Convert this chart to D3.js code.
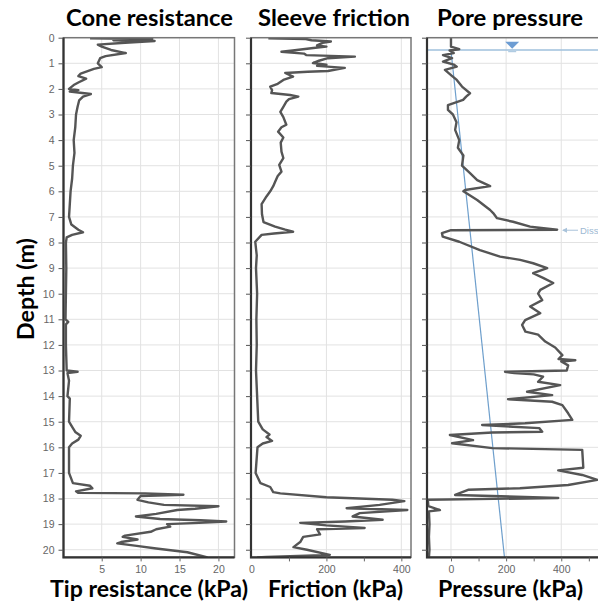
<!DOCTYPE html>
<meta charset="utf-8">
<style>
  body { margin: 0; background: #fff; }
  .title { font-family: Lato, "Open Sans", sans-serif; font-weight: 700; font-size: 22px; fill: #000; }
  .tick text { font-family: "Liberation Sans", sans-serif; font-size: 10.5px; fill: #666; }
  .grid line { stroke: #e2e2e2; stroke-width: 1; }
</style>
<svg width="598" height="604"></svg>
<script src="https://d3js.org/d3.v7.min.js"></script>
<script>

  // depth (m), value
  var tipResistance = [
    [0.02, 3.5], [0.05, 11.5], [0.1, 6.5], [0.13, 11.8], [0.2, 8.0], [0.27, 4.5], [0.35, 5.0],
    [0.48, 6.2], [0.6, 8.1], [0.72, 5.5], [0.8, 4.8], [1.0, 4.5], [1.15, 5.0], [1.22, 4.0],
    [1.4, 2.3], [1.5, 2.0], [1.6, 3.0], [1.75, 2.0], [1.85, 1.4], [2.0, 0.8], [2.05, 2.0],
    [2.1, 0.9], [2.2, 3.6], [2.3, 2.6], [2.45, 2.1], [2.7, 1.9], [3.0, 1.7], [3.5, 1.6],
    [4.0, 1.4], [4.5, 1.5], [5.0, 1.3], [5.5, 1.2], [6.0, 1.0], [6.5, 0.9], [7.0, 0.8],
    [7.3, 1.1], [7.5, 2.0], [7.6, 2.6], [7.7, 1.2], [7.8, 0.5], [8.0, 0.4], [9.0, 0.45],
    [10, 0.4], [11, 0.35], [11.1, 0.7], [11.2, 0.4], [12, 0.4], [13.0, 0.5], [13.05, 1.9],
    [13.1, 0.6], [13.4, 0.8], [14, 0.6], [14.1, 0.9], [15, 0.8], [15.2, 1.2], [15.4, 1.6],
    [15.55, 2.3], [15.7, 2.0], [15.85, 1.2], [16.0, 0.8], [17.0, 0.8], [17.4, 1.3], [17.5, 3.5],
    [17.6, 3.8], [17.72, 1.7], [17.78, 2.0], [17.8, 10.6], [17.85, 15.5], [17.9, 10.0],
    [18.05, 9.6], [18.15, 11.0], [18.25, 13.0], [18.3, 20.0], [18.4, 17.0], [18.45, 14.7],
    [18.6, 12.0], [18.7, 9.4], [18.8, 12.5], [18.85, 17.7], [18.9, 21.0], [18.95, 17.5],
    [19.0, 13.4], [19.1, 13.8], [19.2, 12.0], [19.3, 11.3], [19.45, 8.0], [19.5, 7.7],
    [19.6, 9.6], [19.7, 7.5], [19.75, 7.0], [19.85, 9.5], [19.95, 12.0], [20.1, 16.0], [20.3, 18.6]
  ];

  var sleeveFriction = [
    [0.02, 45], [0.05, 145], [0.1, 160], [0.15, 212], [0.2, 190], [0.3, 175], [0.35, 200],
    [0.4, 165], [0.5, 110], [0.55, 80], [0.62, 140], [0.68, 146], [0.74, 276], [0.8, 204],
    [0.9, 180], [0.99, 164], [1.05, 200], [1.1, 175], [1.18, 249], [1.3, 204], [1.33, 150],
    [1.38, 90], [1.52, 111], [1.65, 85], [1.8, 70], [1.91, 50], [2.05, 55], [2.16, 53],
    [2.24, 103], [2.3, 125], [2.4, 100], [2.5, 93], [2.7, 85], [2.9, 77], [3.1, 85], [3.4, 93],
    [3.5, 80], [3.67, 71], [3.9, 85], [4.1, 78], [4.45, 80], [4.7, 85], [4.97, 74], [5.23, 80],
    [5.4, 70], [5.6, 64], [5.8, 58], [6.0, 50], [6.2, 40], [6.5, 27], [6.9, 28], [7.2, 32],
    [7.38, 63], [7.5, 90], [7.58, 111], [7.65, 60], [7.7, 27], [7.97, 10], [8.5, 14], [9.0, 12],
    [10, 15], [11, 13], [12, 14], [13, 12], [14, 15], [15.0, 18], [15.3, 30], [15.5, 48],
    [15.6, 40], [15.75, 55], [15.85, 30], [16.0, 16], [17.0, 11], [17.4, 24], [17.55, 50],
    [17.75, 58], [17.8, 77], [17.95, 200], [18.05, 376], [18.1, 408], [18.25, 342], [18.38, 254],
    [18.45, 416], [18.57, 289], [18.7, 270], [18.83, 350], [18.9, 250], [18.95, 130], [19.05, 200],
    [19.15, 302], [19.2, 175], [19.4, 183], [19.5, 138], [19.7, 130], [19.9, 112], [20.0, 148],
    [20.2, 209], [20.28, 40], [20.3, 15]
  ];

  var porePressure = [
    [0.0, 0], [0.35, 0], [0.45, 30], [0.5, -5], [0.6, 10], [0.68, -29], [0.8, 4], [0.93, -29],
    [1.05, 10], [1.13, 21], [1.26, -22], [1.46, 0], [1.65, 21], [1.91, 40], [2.17, 69], [2.3, 55],
    [2.43, 44], [2.63, -11], [2.82, -11], [3.0, 7], [3.3, 20], [3.6, 15], [4.0, 30], [4.3, 25],
    [4.6, 45], [5.0, 40], [5.3, 70], [5.56, 95], [5.8, 142], [5.95, 51], [6.0, 45], [6.34, 95],
    [6.73, 142], [6.85, 153], [7.05, 167], [7.19, 225], [7.38, 287], [7.5, 385], [7.52, 0],
    [7.63, -33], [7.77, -30], [7.97, 30], [8.3, 105], [8.55, 178], [8.68, 251], [8.81, 298],
    [9.0, 349], [9.2, 298], [9.38, 334], [9.58, 371], [9.85, 324], [10.0, 316], [10.25, 331],
    [10.5, 287], [10.76, 324], [11.03, 269], [11.22, 258], [11.48, 270], [11.6, 316], [11.87, 342],
    [12.1, 378], [12.4, 404], [12.55, 390], [12.6, 451], [12.65, 400], [12.8, 425], [13.0, 420],
    [13.05, 196], [13.1, 230], [13.15, 300], [13.24, 334], [13.44, 316], [13.57, 396], [13.83, 276],
    [13.96, 367], [14.12, 207], [14.22, 367], [14.35, 404], [14.67, 425], [14.93, 440], [15.06, 269],
    [15.13, 113], [15.25, 320], [15.39, 331], [15.42, 150], [15.52, -4], [15.72, 80], [15.84, 4],
    [16.03, 150], [16.1, 476], [16.8, 480], [16.9, 389], [17.08, 476], [17.27, 531], [17.47, 425],
    [17.6, 250], [17.66, 62], [17.86, 15], [17.98, 389], [18.05, -84], [18.3, -82], [18.45, -40],
    [18.5, -80], [19, -78], [19.5, -80], [20, -78], [20.3, -80]
  ];

  // hydrostatic line and water table
  var hydroDepth = [0.5, 20.3];
  var hydroPressure = [0, 194];
  var waterTable = 0.48;

  var depthTicks = d3.range(0, 21);
  var titles = ["Cone resistance", "Sleeve friction", "Pore pressure"];
  var xLabels = ["Tip resistance (kPa)", "Friction (kPa)", "Pressure (kPa)"];

  var svg = d3.select("svg");

  var y = d3.scaleLinear().domain([0, 20.3]).range([37.7, 557.4]);

  var panels = [
    { data: tipResistance, left: 63.5, right: 234.5, x: d3.scaleLinear().domain([0, 22]).range([62.8, 234]),
      labels: [5, 10, 15, 20], minor: [5, 10, 15, 20], grid: [5, 10, 15, 20],
      title: titles[0], titleW: 167, label: xLabels[0], labelW: 198, cx: 149.5, lx: 149 },
    { data: sleeveFriction, left: 251, right: 411, x: d3.scaleLinear().domain([0, 425]).range([251.5, 410.7]),
      labels: [0, 200, 400], minor: [100, 200, 300, 400], grid: [200, 400],
      title: titles[1], titleW: 152, label: xLabels[1], labelW: 135, cx: 334, lx: 335.5 },
    { data: porePressure, left: 427, right: 640, x: d3.scaleLinear().domain([-87, 600]).range([427, 616.4]),
      labels: [0, 200, 400], minor: [0, 100, 200, 300, 400, 500], grid: [0, 200, 400],
      title: titles[2], titleW: 146, label: xLabels[2], labelW: 145, cx: 510, lx: 510.5 }
  ];

  var yTop = y.range()[0], yBottom = y.range()[1];

  panels.forEach(function (p, i) {
    var g = svg.append("g");

    g.append("clipPath").attr("id", "clip" + i)
      .append("rect").attr("x", p.left).attr("y", yTop).attr("width", p.right - p.left).attr("height", yBottom - yTop);

    // grid
    var grid = g.append("g").attr("class", "grid");
    grid.selectAll("line.h").data(depthTicks).enter().append("line")
      .attr("x1", p.left).attr("x2", p.right)
      .attr("y1", d => y(d)).attr("y2", d => y(d));
    grid.selectAll("line.v").data(p.grid).enter().append("line")
      .attr("x1", d => p.x(d)).attr("x2", d => p.x(d))
      .attr("y1", yTop).attr("y2", yBottom);

    // hydrostatic & water table in pore pressure panel
    if (i === 2) {
      var hydro = hydroDepth.map((d, k) => [d, hydroPressure[k]]);
      g.append("path")
        .attr("d", d3.line().x(d => p.x(d[1])).y(d => y(d[0]))(hydro))
        .attr("fill", "none").attr("stroke", "#6e9fcc").attr("stroke-width", 1.2);
      g.append("line")
        .attr("x1", p.left).attr("x2", p.right)
        .attr("y1", y(waterTable)).attr("y2", y(waterTable))
        .attr("stroke", "#9fc0dc").attr("stroke-width", 1.3);
      var tx = p.x(222);
      g.append("path")
        .attr("d", `M${tx - 7},${yTop + 4}L${tx + 7},${yTop + 4}L${tx},${yTop + 11}Z`)
        .attr("fill", "#6d9dd3");
      g.append("line")
        .attr("x1", tx - 4).attr("x2", tx + 4).attr("y1", yTop + 14).attr("y2", yTop + 14)
        .attr("stroke", "#9fc0dc").attr("stroke-width", 1);
      // dissipation marker
      var dy = y(7.52);
      g.append("line").attr("x1", 563).attr("x2", 578).attr("y1", dy).attr("y2", dy)
        .attr("stroke", "#a9c3da").attr("stroke-width", 1);
      g.append("path").attr("d", `M562,${dy}L567,${dy - 2.5}L567,${dy + 2.5}Z`).attr("fill", "#a9c3da");
      g.append("text").attr("x", 580).attr("y", dy + 3.5).text("Diss")
        .style("font-family", "'Liberation Sans Narrow', 'Liberation Sans', sans-serif")
        .style("font-size", "9.5px").attr("fill", "#9db9d3");
    }

    // data line
    g.append("path")
      .attr("clip-path", "url(#clip" + i + ")")
      .attr("d", d3.line().x(d => p.x(d[1])).y(d => y(d[0]))(p.data))
      .attr("fill", "none").attr("stroke", "#555").attr("stroke-width", 2.4)
      .attr("stroke-linejoin", "round");

    // frame
    g.append("rect")
      .attr("x", p.left).attr("y", yTop).attr("width", p.right - p.left).attr("height", yBottom - yTop)
      .attr("fill", "none").attr("stroke", "#777").attr("stroke-width", 1.5);
    g.append("path")
      .attr("d", `M${p.left},${yTop}V${yBottom}H${p.right}`)
      .attr("fill", "none").attr("stroke", "#333").attr("stroke-width", 2.2);

    // y axis ticks
    var yAxis = d3.axisLeft(y).tickValues(depthTicks).tickSize(5).tickPadding(4);
    if (i > 0) yAxis.tickFormat("");
    var ya = g.append("g").attr("transform", `translate(${p.left},0)`).call(yAxis);
    ya.select(".domain").remove();
    ya.selectAll(".tick line").attr("stroke", "#555");
    if (i > 0) ya.selectAll(".tick text").remove();

    // x axis
    var xa = g.append("g").attr("transform", `translate(0,${yBottom})`)
      .call(d3.axisBottom(p.x).tickValues(p.minor).tickSize(4).tickFormat(""));
    xa.select(".domain").remove();
    xa.selectAll(".tick text").remove();
    xa.selectAll(".tick line").attr("stroke", "#666");
    var xl = g.append("g").attr("transform", `translate(0,${yBottom})`)
      .call(d3.axisBottom(p.x).tickValues(p.labels).tickSize(0).tickPadding(8));
    xl.select(".domain").remove();

    // titles
    g.append("text").attr("class", "title")
      .attr("x", p.cx).attr("y", 26).attr("text-anchor", "middle")
      .attr("textLength", p.titleW).attr("lengthAdjust", "spacingAndGlyphs")
      .text(p.title);
    g.append("text").attr("class", "title")
      .attr("x", p.lx).attr("y", 597).attr("text-anchor", "middle")
      .attr("textLength", p.labelW).attr("lengthAdjust", "spacingAndGlyphs")
      .text(p.label);
  });

  svg.append("text").attr("class", "title")
    .attr("transform", "translate(33.5,289) rotate(-90)")
    .attr("text-anchor", "middle")
    .attr("textLength", 102).attr("lengthAdjust", "spacingAndGlyphs")
    .text("Depth (m)");

</script>
